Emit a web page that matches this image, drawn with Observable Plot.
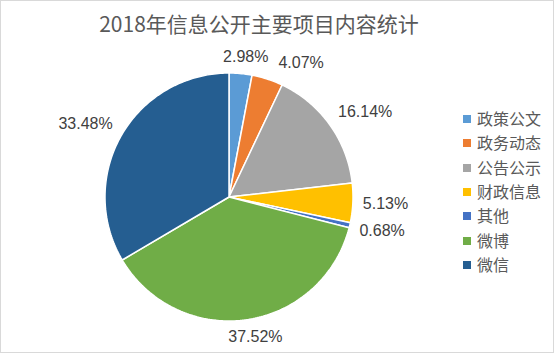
<!DOCTYPE html>
<html>
<head>
<meta charset="utf-8">
<script src="https://cdn.jsdelivr.net/npm/d3@7"></script>
<script src="https://cdn.jsdelivr.net/npm/@observablehq/plot@0.6"></script>
<style>
  html, body { margin: 0; padding: 0; background: #fff; }
  #wrap { position: relative; width: 555px; height: 354px; overflow: hidden; background: #fff; }
  #frame { position: absolute; left: 0; top: 0; width: 554px; height: 353px; box-sizing: border-box; border: 1px solid #d9d9d9; }
  #title { position: absolute; left: 0; top: 12px; width: 518px; text-align: center; font: 21px/22px "Noto Sans CJK SC", sans-serif; color: #595959; white-space: nowrap; }
  #plot { position: absolute; left: 0; top: 0; }
  .lg { position: absolute; left: 463px; height: 20px; font: 16px/20px "Noto Sans CJK SC", sans-serif; color: #595959; white-space: nowrap; }
  .lg i { position: absolute; left: 0; top: 6px; width: 8px; height: 8px; }
  .lg span { position: absolute; left: 14px; top: -1px; }
</style>
</head>
<body>
<div id="wrap">
  <div id="frame"></div>
  <div id="plot"></div>
  <div id="title"></div>
</div>
<script>
const title = "2018年信息公开主要项目内容统计";
const names = ["政策公文", "政务动态", "公告公示", "财政信息", "其他", "微博", "微信"];
const values = [2.98, 4.07, 16.14, 5.13, 0.68, 37.52, 33.48];
const colors = ["#5B9BD5", "#ED7D31", "#A5A5A5", "#FFC000", "#4472C4", "#70AD47", "#255E91"];

const W = 555, H = 354;
const CX = 228.5, CY = 196.5, R = 124;

document.getElementById("title").textContent = title;

// slices as closed polygons in unit-circle coordinates (y up)
const arcs = d3.pie().sort(null).value(d => d)(values);
const slicePts = [];
arcs.forEach((a, i) => {
  slicePts.push({name: names[i], x: 0, y: 0});
  const n = Math.max(2, Math.ceil((a.endAngle - a.startAngle) / (Math.PI / 180)));
  for (let k = 0; k <= n; k++) {
    const t = a.startAngle + (a.endAngle - a.startAngle) * k / n;
    slicePts.push({name: names[i], x: Math.sin(t), y: Math.cos(t)});
  }
});

// label placement (outside end, like the spreadsheet)
const ctx = document.createElement("canvas").getContext("2d");
const labelFont = "16px 'Liberation Sans', Arial, sans-serif";
ctx.font = labelFont;
const clamp = v => Math.max(-1, Math.min(1, v));
const K = 0.5, D = 10, HH = 7;
const boxes = [];
const labels = arcs.map((a, i) => {
  const th = (a.startAngle + a.endAngle) / 2, s = Math.sin(th), c = Math.cos(th);
  const text = values[i].toFixed(2) + "%";
  const hw = ctx.measureText(text).width / 2;
  const ax = CX + (R + D) * s, ay = CY - (R + D) * c;
  let x = ax + hw * clamp(s / K), y = ay - HH * clamp(c / K);
  for (const b of boxes) {
    if (Math.abs(y - b.y) < HH * 2 + 2 && x - hw < b.x + b.hw + 10 && x + hw > b.x - b.hw - 10) {
      x = s >= 0 ? b.x + b.hw + 10 + hw : b.x - b.hw - 10 - hw;
    }
  }
  boxes.push({x, y, hw});
  return {text, x: (x - CX) / R, y: (CY - y) / R};
});

const chart = Plot.plot({
  width: W, height: H, margin: 0,
  x: {domain: [-CX / R, (W - CX) / R], range: [0, W], axis: null},
  y: {domain: [CY / R, -(H - CY) / R], range: [0, H], axis: null},
  color: {domain: names, range: colors},
  style: {background: "transparent", overflow: "visible"},
  marks: [
    Plot.line(slicePts, {x: "x", y: "y", z: "name", fill: "name", stroke: "#ffffff", strokeWidth: 1.5, strokeLinejoin: "miter", curve: "linear-closed"}),
    Plot.text(labels, {x: "x", y: "y", text: "text", fill: "#404040", fontSize: 16, fontFamily: "'Liberation Sans', Arial, sans-serif", textAnchor: "middle"})
  ]
});
document.getElementById("plot").appendChild(chart);

// legend
const wrap = document.getElementById("wrap");
names.forEach((n, i) => {
  const d = document.createElement("div");
  d.className = "lg";
  d.style.top = (119 + i * 24.3 - 10) + "px";
  const sw = document.createElement("i");
  sw.style.background = colors[i];
  const sp = document.createElement("span");
  sp.textContent = n;
  d.appendChild(sw); d.appendChild(sp);
  wrap.appendChild(d);
});
</script>
</body>
</html>
